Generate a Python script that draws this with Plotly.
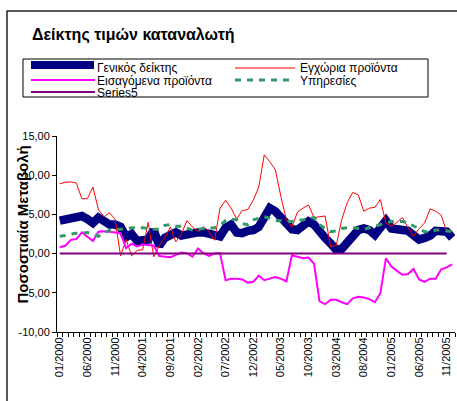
import plotly.graph_objects as go

months = [f"{m:02d}/{y}" for y in range(2000, 2006) for m in range(1, 13)]

general = [4.2, 4.4, 4.6, 4.75, 4.8, 4.4, 3.9, 4.6, 4.0, 3.7,
           3.7, 3.4, 2.1, 2.5, 1.6, 1.8, 1.8, 3.0, 1.0, 2.0,
           2.3, 2.7, 2.3, 2.5, 2.7, 2.7, 2.7, 2.5, 2.3, 2.2,
           3.3, 3.7, 2.7, 2.6, 2.9, 3.0, 3.4, 4.7, 5.8, 5.4,
           4.5, 3.9, 3.1, 3.0, 3.7, 4.1, 3.7, 2.6, 2.0, 1.3,
           0.5, 0.6, 1.3, 2.2, 3.0, 3.2, 3.0, 2.4, 3.2, 4.2,
           3.2, 3.0, 3.0, 2.9, 2.4, 1.8, 2.0, 2.3, 2.9, 2.9,
           2.8, 2.0]

domestic = [8.9, 9.1, 9.15, 9.0, 7.0, 7.0, 8.5, 5.6, 4.7, 5.2,
            4.4, -0.3, 1.8, -0.3, 0.4, 0.5, 4.0, -0.4, 1.0, 2.0,
            3.4, 1.5, 2.5, 4.2, 3.4, 2.8, 3.4, 2.8, 1.7, 5.8,
            6.8, 5.8, 4.4, 5.5, 5.6, 6.8, 8.5, 12.6, 11.7, 10.7,
            7.3, 4.3, 3.4, 5.3, 5.8, 6.2, 4.6, 4.7, 4.8, 0.9,
            1.0, 4.3, 6.5, 7.8, 7.5, 5.4, 5.8, 5.9, 6.9, 3.9,
            3.5, 4.0, 4.6, 3.3, 2.2, 3.2, 3.9, 5.7, 5.4, 4.9,
            2.8, 2.9]

imported = [0.8, 1.0, 1.75, 1.85, 2.7, 2.2, 1.6, 2.8, 2.85, 2.8,
            2.7, 2.6, 0.7, 1.25, 0.9, 1.15, 1.1, 1.0, -0.3, -0.4,
            -0.45, -0.17, 0.13, 0.05, -0.4, 0.65, 0.05, -0.3, 0.0, 0.05,
            -3.4, -3.2, -3.2, -3.3, -3.7, -3.6, -2.8, -3.4, -3.2, -3.0,
            -3.2, -3.55, -0.2, -0.4, -0.6, -0.5, -1.3, -6.1, -6.45, -5.9,
            -5.9, -6.2, -6.45, -5.7, -5.5, -5.6, -5.8, -6.2, -5.05, -0.6,
            -1.65, -2.2, -2.7, -2.6, -1.95, -3.3, -3.6, -3.2, -3.2, -2.0,
            -1.75, -1.36]

services = [2.2, 2.3, 2.5, 2.6, 2.6, 2.7, 2.5, 2.2, 2.6, 3.0,
            3.1, 3.1, 3.2, 3.3, 3.3, 3.3, 3.2, 3.1, 3.1, 3.6,
            3.7, 3.5, 3.5, 3.2, 3.0, 3.1, 3.2, 3.2, 3.3, 3.6,
            4.2, 4.4, 4.3, 3.8, 3.7, 4.3, 4.5, 4.7, 4.5, 4.2,
            4.2, 4.1, 4.1, 4.3, 4.3, 4.5, 4.6, 3.7, 3.2, 2.8,
            2.9, 3.2, 3.3, 3.3, 3.2, 3.1, 3.3, 3.5, 3.7, 3.9,
            4.1, 4.1, 4.1, 3.9, 3.5, 3.2, 2.8, 2.8, 3.0, 3.0,
            2.9, 2.8]

series5 = [0.0] * 71

names = ["Γενικός δείκτης", "Εγχώρια προϊόντα", "Εισαγόμενα προϊόντα", "Υπηρεσίες", "Series5"]
colors = ["#000080", "#FF0000", "#FF00FF", "#339966", "#800080"]

y_tickvals = [-10, -5, 0, 5, 10, 15]
y_ticktext = ["-10,00", "-5,00", "0,00", "5,00", "10,00", "15,00"]

W, H = 457, 401
L, R, T, B = 57, 455, 136, 332

def px(x):
    return (x - L) / (R - L)

def py(y):
    return (B - y) / (B - T)

idx = list(range(len(months)))
FONT = "Liberation Sans, Arial, sans-serif"

fig = go.Figure()
fig.add_trace(go.Scatter(x=idx, y=general, mode="lines", name=names[0],
                         line=dict(color=colors[0], width=8.5), showlegend=False))
fig.add_trace(go.Scatter(x=idx, y=domestic, mode="lines", name=names[1],
                         line=dict(color=colors[1], width=1), showlegend=False))
fig.add_trace(go.Scatter(x=idx, y=imported, mode="lines", name=names[2],
                         line=dict(color=colors[2], width=2), showlegend=False))
fig.add_trace(go.Scatter(x=idx, y=services, mode="lines", name=names[3],
                         line=dict(color=colors[3], width=3, dash="6px,6px"), showlegend=False))
fig.add_trace(go.Scatter(x=list(range(len(series5))), y=series5, mode="lines", name=names[4],
                         line=dict(color=colors[4], width=2), showlegend=False))

shapes = []
# outer chart border
shapes.append(dict(type="rect", xref="paper", yref="paper",
                   x0=px(7), x1=px(475), y0=py(11), y1=py(420),
                   line=dict(color="#222222", width=1.5), fillcolor="rgba(0,0,0,0)", layer="above"))
# legend box
shapes.append(dict(type="rect", xref="paper", yref="paper",
                   x0=px(23), x1=px(428), y0=py(59), y1=py(97),
                   line=dict(color="black", width=1), fillcolor="white", layer="above"))

legend_items = [
    (names[0], colors[0], 8, "solid", 31, 94, 65, 97, 68),
    (names[1], colors[1], 1, "solid", 235, 295, 68, 300, 68),
    (names[2], colors[2], 2, "solid", 31, 95, 80, 97, 81),
    (names[3], colors[3], 3, "6px,6px", 235, 292, 80, 300, 81),
    (names[4], colors[4], 2, "solid", 31, 95, 92, 97, 93),
]
annotations = []
for name, col, w, dash, x0, x1, yl, xt, yt in legend_items:
    shapes.append(dict(type="line", xref="paper", yref="paper",
                       x0=px(x0), x1=px(x1), y0=py(yl), y1=py(yl),
                       line=dict(color=col, width=w, dash=dash), layer="above"))
    annotations.append(dict(xref="paper", yref="paper", x=px(xt - 2), y=py(yt),
                            xanchor="left", yanchor="middle", showarrow=False,
                            text=name, font=dict(family=FONT, size=12, color="black")))

annotations.append(dict(xref="paper", yref="paper", x=px(30), y=py(35),
                        xanchor="left", yanchor="middle", showarrow=False,
                        text="<b>Δείκτης τιμών καταναλωτή</b>",
                        font=dict(family=FONT, size=16, color="black")))
annotations.append(dict(xref="paper", yref="paper", x=px(21.5), y=py(225),
                        xanchor="center", yanchor="middle", showarrow=False, textangle=-90,
                        text="<b>Ποσοστιαία Μεταβολή</b>",
                        font=dict(family=FONT, size=15, color="black")))

fig.update_layout(
    width=W, height=H,
    margin=dict(l=L, r=W - R, t=T, b=H - B, pad=0, autoexpand=False),
    paper_bgcolor="white", plot_bgcolor="white",
    showlegend=False,
    shapes=shapes, annotations=annotations,
    font=dict(family=FONT, color="black"),
    xaxis=dict(
        range=[-0.5, len(months) - 0.5],
        automargin=False,
        tickmode="array",
        tickvals=idx[::5],
        ticktext=months[::5],
        tickangle=-90,
        ticks="",
        showline=True, linecolor="black", linewidth=1,
        showgrid=False, zeroline=False,
        tickfont=dict(family=FONT, size=11, color="black"),
        minor=dict(ticks="outside", tickmode="array",
                   tickvals=[i - 0.5 for i in range(len(months) + 1)],
                   ticklen=4, tickcolor="black", tickwidth=1, showgrid=False),
    ),
    yaxis=dict(
        range=[-10, 15],
        automargin=False,
        tickmode="array",
        tickvals=y_tickvals,
        ticktext=y_ticktext,
        ticks="outside", ticklen=4, tickcolor="black",
        showline=True, linecolor="black", linewidth=1,
        showgrid=False, zeroline=False,
        tickfont=dict(family=FONT, size=11, color="black"),
    ),
)

fig.write_html("out.html", config={"displayModeBar": False},
               post_script="document.body.style.margin='0px';document.body.style.overflow='hidden';")
